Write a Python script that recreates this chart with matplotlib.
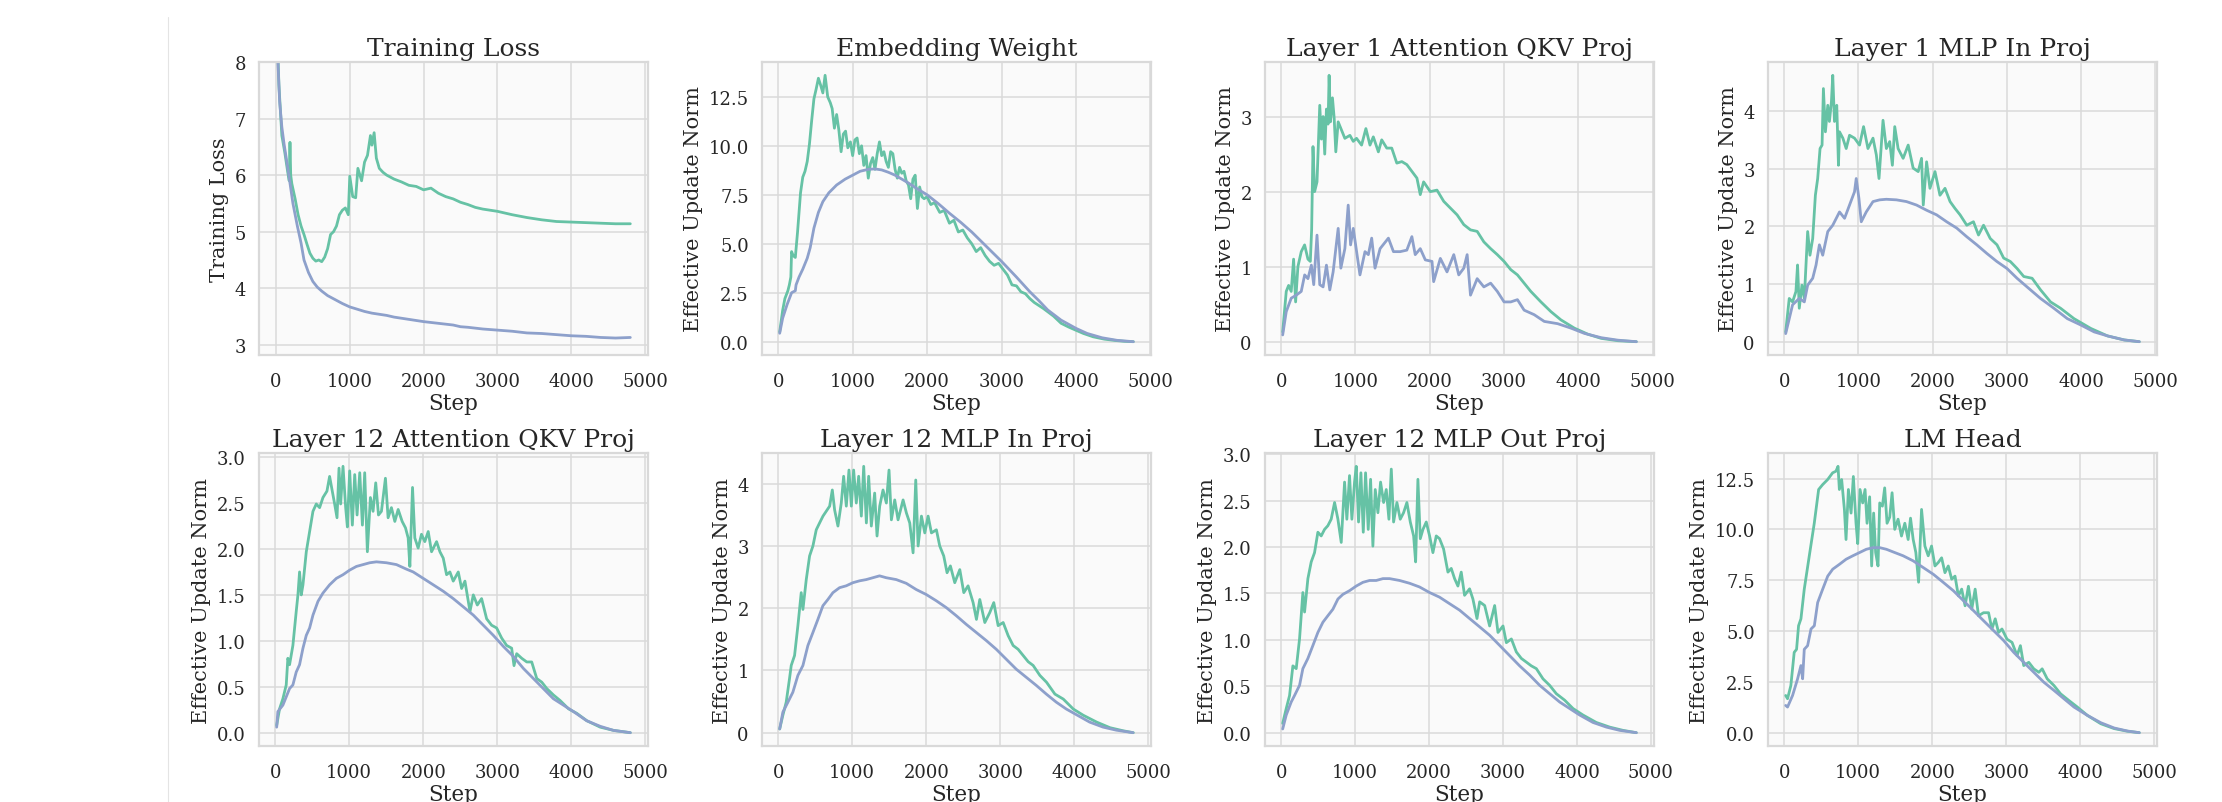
import numpy as np
import matplotlib
matplotlib.use("Agg")
import matplotlib.pyplot as plt
import seaborn as sns
from matplotlib.lines import Line2D
from matplotlib.ticker import MultipleLocator

sns.set_theme(style="whitegrid", rc={"axes.facecolor": "#fafafa"})
plt.rcParams['font.family'] = ['DejaVu Serif']

GREEN = '#66c2a5'
BLUE = '#8da0cb'

# ---- Training loss ----
loss_g_steps = [20, 40, 80, 120, 160, 180, 190, 200, 215, 240, 260, 300, 340, 380, 420, 460, 500, 540, 580,
                620, 660, 700, 740, 780, 820, 860, 900, 940, 980, 1000, 1040, 1080, 1110, 1160, 1200, 1240,
                1280, 1300, 1330, 1360, 1400, 1450, 1500, 1600, 1700, 1800, 1900, 2000, 2100, 2200, 2300,
                2400, 2500, 2600, 2700, 2800, 2900, 3000, 3200, 3400, 3600, 3800, 4000, 4200, 4400, 4600, 4800]
loss_g = [8.4, 7.6, 6.7, 6.4, 6.05, 5.9, 6.58, 6.0, 5.85, 5.7, 5.58, 5.3, 5.1, 4.95, 4.78, 4.62, 4.53, 4.48, 4.5,
          4.47, 4.55, 4.7, 4.95, 5.0, 5.1, 5.3, 5.38, 5.42, 5.3, 5.98, 5.62, 5.6, 6.12, 5.9, 6.23, 6.35,
          6.7, 6.53, 6.75, 6.3, 6.12, 6.05, 6.0, 5.93, 5.88, 5.82, 5.8, 5.74, 5.77, 5.68, 5.62,
          5.58, 5.52, 5.48, 5.43, 5.4, 5.38, 5.36, 5.3, 5.25, 5.21, 5.18, 5.17, 5.16, 5.15, 5.14, 5.14]
loss_b_steps = [10, 20, 30, 50, 80, 110, 140, 180, 230, 290, 340, 380, 440, 500, 560, 620, 700, 800, 900, 1000,
                1100, 1200, 1300, 1400, 1500, 1600, 1700, 1800, 1900, 2000, 2200, 2400, 2500, 2600, 2800,
                3000, 3200, 3400, 3600, 3800, 4000, 4200, 4400, 4600, 4800]
loss_b = [9.5, 8.4, 7.9, 7.3, 6.85, 6.55, 6.3, 5.95, 5.5, 5.1, 4.8, 4.5, 4.28, 4.12, 4.02, 3.95, 3.87, 3.8, 3.73,
          3.67, 3.63, 3.59, 3.56, 3.54, 3.52, 3.49, 3.47, 3.45, 3.43, 3.41, 3.38, 3.35, 3.32, 3.31, 3.28,
          3.26, 3.24, 3.21, 3.2, 3.18, 3.16, 3.15, 3.13, 3.12, 3.13]

# ---- Embedding weight ----
emb_g_steps = [20, 60, 90, 130, 150, 170, 180, 200, 230, 260, 300, 330, 360, 390, 420, 450, 480, 510, 540, 570,
               600, 630, 665, 700, 725, 755, 785, 815, 845, 875, 905, 935, 970, 1000, 1030, 1060, 1090, 1120,
               1150, 1180, 1210, 1240, 1270, 1300, 1330, 1360, 1390, 1420, 1450, 1480, 1510, 1540, 1570, 1600,
               1630, 1660, 1690, 1720, 1750, 1780, 1810, 1840, 1870, 1900, 1930, 1960, 2000, 2050, 2100, 2170,
               2230, 2300, 2360, 2420, 2480, 2540, 2600, 2660, 2720, 2780, 2840, 2900, 2960, 3020, 3080, 3140,
               3200, 3260, 3320, 3380, 3440, 3500, 3560, 3620, 3700, 3800, 3900, 3990, 4100, 4230, 4380, 4530,
               4650, 4770]
emb_g = [0.5, 1.6, 2.2, 2.6, 2.9, 3.3, 4.6, 4.4, 4.3, 5.6, 7.6, 8.4, 8.7, 9.2, 10.1, 11.3, 12.4, 12.9, 13.45, 13.1,
         12.7, 13.6, 12.5, 12.2, 11.9, 10.9, 11.6, 10.8, 9.7, 10.6, 10.75, 9.9, 10.2, 9.5, 10.3, 10.4, 9.6, 10.0,
         9.0, 9.5, 8.35, 9.1, 9.4, 8.8, 9.6, 10.2, 9.5, 9.7, 9.2, 8.9, 9.7, 9.6, 8.8, 8.35,
         8.9, 8.6, 8.7, 8.2, 8.0, 7.3, 8.3, 8.5, 6.8, 7.9, 7.4, 7.3, 7.4, 7.0, 7.1, 6.6,
         6.7, 6.05, 6.2, 5.6, 5.7, 5.3, 5.0, 4.6, 4.8, 4.4, 4.1, 3.9, 4.0, 3.7, 3.4, 2.9,
         2.85, 2.55, 2.45, 2.2, 2.0, 1.85, 1.7, 1.53, 1.3, 0.94, 0.75, 0.6, 0.42, 0.25, 0.13, 0.06,
         0.02, 0.0]
emb_b_steps = [20, 60, 120, 180, 230, 240, 280, 330, 390, 430, 480, 540, 600, 680, 785, 900, 1000, 1100, 1210,
               1300, 1390, 1480, 1570, 1660, 1750, 1870, 2000, 2150, 2300, 2450, 2600, 2800, 3000, 3200, 3380,
               3500, 3620, 3800, 4000, 4150, 4350, 4550, 4770]
emb_b = [0.43, 1.2, 1.9, 2.5, 2.6, 2.9, 3.3, 3.7, 4.26, 4.8, 5.8, 6.6, 7.15, 7.6, 8.0, 8.3, 8.5, 8.7, 8.8,
         8.82, 8.77, 8.65, 8.5, 8.3, 8.1, 7.8, 7.5, 7.05, 6.56, 6.1, 5.6, 4.85, 4.1, 3.3, 2.55,
         2.1, 1.62, 1.1, 0.68, 0.42, 0.2, 0.07, 0.0]

# ---- Layer 1 attention QKV ----
l1qkv_g_steps = [20, 68, 100, 135, 167, 194, 225, 270, 315, 360, 392, 410, 428, 450, 482, 519, 541, 564, 586, 609,
                 631, 645, 663, 690, 713, 735, 767, 812, 857, 925, 970, 1014, 1082, 1140, 1195, 1240, 1308, 1353,
                 1421, 1488, 1556, 1624, 1691, 1759, 1827, 1872, 1917, 2007, 2097, 2188, 2278, 2368, 2458, 2548,
                 2638, 2728, 2819, 2909, 3000, 3090, 3180, 3270, 3360, 3496, 3631, 3766, 3947, 4127, 4308, 4533,
                 4780]
l1qkv_g = [0.13, 0.67, 0.75, 0.67, 1.1, 0.53, 1.0, 1.2, 1.29, 1.1, 1.07, 1.5, 2.6, 2.0, 2.13, 3.15, 2.7, 3.0, 2.5,
           3.1, 2.9, 3.55, 2.93, 3.25, 2.98, 2.53, 2.93, 2.82, 2.71, 2.75, 2.67, 2.71, 2.62, 2.84, 2.62, 2.73,
           2.53, 2.69, 2.58, 2.58, 2.38, 2.4, 2.36, 2.27, 2.18, 1.96, 2.13, 2.0, 2.02, 1.87, 1.78, 1.69, 1.56,
           1.49, 1.47, 1.33, 1.24, 1.16, 1.07, 0.96, 0.89, 0.78, 0.67, 0.53, 0.4, 0.29, 0.18, 0.1, 0.044,
           0.013, 0.0]
l1qkv_b_steps = [20, 68, 135, 203, 270, 316, 360, 406, 438, 482, 519, 564, 609, 654, 699, 767, 803, 857, 902, 934,
                 970, 1015, 1060, 1128, 1173, 1218, 1263, 1331, 1443, 1511, 1601, 1691, 1759, 1804, 1872, 1940,
                 2030, 2052, 2142, 2232, 2323, 2390, 2458, 2503, 2548, 2638, 2728, 2819, 2909, 3000, 3090, 3180,
                 3270, 3405, 3541, 3721, 3902, 4082, 4308, 4533, 4780]
l1qkv_b = [0.09, 0.4, 0.58, 0.62, 0.67, 0.89, 0.84, 1.02, 0.76, 1.42, 0.76, 0.73, 1.02, 0.69, 0.93, 1.51, 0.98,
           1.24, 1.82, 1.29, 1.51, 1.2, 0.89, 1.2, 1.16, 1.38, 0.98, 1.24, 1.38, 1.2, 1.2, 1.22, 1.4, 1.16,
           1.24, 1.09, 1.07, 0.8, 1.11, 0.93, 1.16, 0.89, 0.98, 1.16, 0.62, 0.84, 0.73, 0.78, 0.67, 0.53,
           0.53, 0.56, 0.42, 0.36, 0.27, 0.24, 0.18, 0.11, 0.053, 0.02, 0.0]

# ---- Layer 1 MLP in ----
l1mlp_g_steps = [20, 68, 113, 158, 180, 203, 239, 271, 316, 347, 384, 420, 451, 483, 510, 528, 555, 587, 609, 636,
                 654, 677, 708, 731, 745, 790, 835, 880, 947, 1015, 1069, 1128, 1196, 1241, 1277, 1331, 1376,
                 1421, 1457, 1489, 1534, 1602, 1670, 1737, 1805, 1850, 1873, 1918, 1963, 2031, 2098, 2166, 2234,
                 2301, 2369, 2459, 2549, 2617, 2685, 2775, 2866, 2956, 3046, 3136, 3227, 3339, 3452, 3587, 3722,
                 3903, 4129, 4355, 4580, 4783]
l1mlp_g = [0.17, 0.75, 0.69, 0.87, 1.33, 0.58, 0.98, 0.75, 1.91, 1.5, 1.79, 2.54, 2.83, 3.35, 3.41, 4.39, 3.64,
           4.1, 3.82, 4.16, 4.62, 3.82, 4.1, 3.06, 3.64, 3.53, 3.35, 3.58, 3.53, 3.41, 3.73, 3.35, 3.53, 3.24,
           2.83, 3.84, 3.35, 3.47, 3.06, 3.73, 3.35, 3.18, 3.41, 3.01, 2.95, 3.18, 2.37, 3.12, 2.66, 2.95,
           2.54, 2.66, 2.43, 2.31, 2.2, 2.02, 2.08, 1.85, 2.02, 1.79, 1.68, 1.45, 1.39, 1.27, 1.13, 1.1, 0.9,
           0.69, 0.58, 0.4, 0.23, 0.1, 0.03, 0.0]
l1mlp_b_steps = [20, 113, 203, 271, 316, 384, 429, 474, 519, 587, 654, 745, 813, 880, 947, 970, 1006, 1038, 1105,
                 1196, 1286, 1376, 1512, 1647, 1782, 1918, 2053, 2188, 2324, 2459, 2594, 2730, 2865, 3000, 3136,
                 3271, 3452, 3632, 3813, 3994, 4174, 4355, 4580, 4783]
l1mlp_b = [0.14, 0.64, 0.75, 0.69, 0.98, 1.1, 1.33, 1.68, 1.5, 1.91, 2.02, 2.25, 2.14, 2.37, 2.6, 2.83, 2.49,
           2.08, 2.25, 2.43, 2.46, 2.47, 2.46, 2.43, 2.37, 2.28, 2.2, 2.08, 1.97, 1.82, 1.68, 1.53, 1.39,
           1.27, 1.1, 0.95, 0.75, 0.58, 0.4, 0.29, 0.17, 0.1, 0.03, 0.0]

# ---- Layer 12 attention QKV ----
l12qkv_g_steps = [20, 59, 104, 149, 171, 194, 239, 284, 307, 329, 352, 375, 420, 465, 510, 555, 600, 645, 699,
                  735, 771, 803, 835, 862, 884, 916, 952, 975, 1006, 1042, 1074, 1106, 1142, 1178, 1209, 1245,
                  1286, 1322, 1358, 1395, 1435, 1489, 1525, 1570, 1616, 1661, 1715, 1760, 1796, 1819, 1855,
                  1886, 1931, 1976, 2021, 2067, 2112, 2180, 2225, 2270, 2315, 2360, 2405, 2473, 2518, 2563,
                  2631, 2676, 2730, 2788, 2856, 2923, 2991, 3059, 3126, 3194, 3226, 3262, 3330, 3398, 3465,
                  3533, 3601, 3669, 3759, 3849, 3962, 4075, 4210, 4391, 4571, 4797]
l12qkv_g = [0.08, 0.26, 0.37, 0.52, 0.81, 0.74, 0.95, 1.32, 1.5, 1.75, 1.5, 1.61, 1.97, 2.19, 2.41, 2.49, 2.45,
            2.56, 2.63, 2.79, 2.63, 2.49, 2.34, 2.88, 2.49, 2.9, 2.45, 2.24, 2.85, 2.26, 2.81, 2.37, 2.83,
            2.26, 2.83, 1.97, 2.56, 2.41, 2.72, 2.37, 2.41, 2.77, 2.34, 2.45, 2.3, 2.43, 2.3, 2.23, 2.12,
            1.81, 2.67, 2.12, 2.01, 2.16, 2.08, 2.19, 1.97, 2.08, 1.97, 1.9, 1.72, 1.75, 1.65, 1.75, 1.57,
            1.65, 1.32, 1.5, 1.39, 1.46, 1.24, 1.17, 1.14, 1.03, 0.95, 0.92, 0.73, 0.86, 0.81, 0.77, 0.77,
            0.59, 0.55, 0.48, 0.41, 0.35, 0.26, 0.21, 0.13, 0.06, 0.025, 0.0]
l12qkv_b_steps = [20, 36, 104, 194, 239, 284, 329, 375, 420, 465, 510, 578, 645, 735, 826, 916, 1006, 1097,
                  1187, 1277, 1367, 1503, 1638, 1774, 1864, 2000, 2135, 2270, 2405, 2541, 2676, 2811, 2946,
                  3081, 3217, 3352, 3487, 3622, 3757, 3893, 4028, 4208, 4389, 4569, 4797]
l12qkv_b = [0.06, 0.23, 0.3, 0.48, 0.52, 0.66, 0.74, 0.92, 1.06, 1.14, 1.28, 1.43, 1.52, 1.61, 1.68, 1.72,
            1.77, 1.81, 1.83, 1.85, 1.86, 1.85, 1.83, 1.78, 1.75, 1.68, 1.61, 1.54, 1.46, 1.37, 1.28, 1.17,
            1.06, 0.94, 0.83, 0.7, 0.59, 0.48, 0.37, 0.3, 0.23, 0.13, 0.07, 0.025, 0.0]

# ---- Layer 12 MLP in ----
l12in_g_steps = [20, 63, 108, 153, 176, 221, 266, 311, 334, 379, 424, 469, 514, 559, 605, 650, 695, 731, 762,
                 807, 852, 884, 920, 956, 988, 1019, 1055, 1087, 1123, 1155, 1191, 1222, 1258, 1303, 1335,
                 1371, 1416, 1461, 1497, 1529, 1574, 1619, 1687, 1732, 1777, 1822, 1858, 1890, 1935, 1980,
                 2025, 2070, 2137, 2182, 2236, 2281, 2326, 2385, 2453, 2507, 2565, 2633, 2678, 2723, 2791,
                 2858, 2912, 2971, 3039, 3106, 3174, 3241, 3309, 3377, 3444, 3535, 3625, 3738, 3851, 3986,
                 4121, 4302, 4482, 4662, 4797]
l12in_g = [0.06, 0.28, 0.49, 0.87, 1.08, 1.24, 1.72, 2.25, 1.98, 2.46, 2.84, 3.0, 3.26, 3.37, 3.48, 3.56, 3.64,
           3.9, 3.58, 3.32, 3.69, 4.12, 3.64, 4.22, 3.64, 4.22, 3.69, 4.12, 3.48, 4.28, 3.37, 4.12, 3.32, 3.85,
           3.16, 3.64, 3.9, 3.69, 4.22, 3.42, 3.74, 3.42, 3.74, 3.53, 3.37, 2.89, 4.06, 3.0, 3.48, 3.21,
           3.48, 3.21, 3.26, 3.0, 2.84, 2.57, 2.68, 2.41, 2.62, 2.25, 2.36, 2.09, 1.82, 2.14, 1.77, 1.93,
           2.09, 1.72, 1.77, 1.56, 1.4, 1.34, 1.24, 1.14, 1.08, 0.92, 0.81, 0.62, 0.54, 0.38, 0.28, 0.17,
           0.08, 0.03, 0.0]
l12in_b_steps = [20, 63, 131, 198, 266, 334, 401, 469, 536, 604, 671, 739, 829, 919, 1009, 1099, 1189, 1279,
                 1369, 1459, 1595, 1730, 1865, 2000, 2135, 2270, 2405, 2541, 2676, 2811, 2946, 3081, 3216,
                 3351, 3486, 3622, 3757, 3892, 4027, 4207, 4387, 4568, 4793]
l12in_b = [0.06, 0.33, 0.49, 0.65, 0.92, 1.08, 1.4, 1.61, 1.82, 2.04, 2.14, 2.25, 2.33, 2.36, 2.41, 2.44, 2.46,
           2.49, 2.52, 2.49, 2.46, 2.4, 2.3, 2.22, 2.12, 2.01, 1.88, 1.74, 1.61, 1.48, 1.34, 1.18, 1.02, 0.89,
           0.76, 0.62, 0.49, 0.38, 0.29, 0.17, 0.09, 0.04, 0.0]

# ---- Layer 12 MLP out ----
l12out_g_steps = [20, 68, 113, 158, 203, 248, 293, 316, 361, 406, 451, 496, 541, 586, 631, 676, 722, 767, 812,
                  857, 888, 924, 956, 992, 1015, 1046, 1078, 1110, 1141, 1177, 1209, 1240, 1272, 1308, 1344,
                  1385, 1421, 1457, 1489, 1520, 1565, 1610, 1655, 1700, 1746, 1791, 1818, 1849, 1881, 1917,
                  1962, 2007, 2052, 2097, 2142, 2196, 2255, 2300, 2345, 2390, 2435, 2480, 2548, 2593, 2648,
                  2684, 2752, 2819, 2887, 2932, 3000, 3045, 3113, 3180, 3248, 3316, 3383, 3451, 3541, 3631,
                  3721, 3834, 3947, 4082, 4262, 4443, 4623, 4803]
l12out_g = [0.1, 0.26, 0.4, 0.72, 0.69, 1.01, 1.51, 1.3, 1.66, 1.84, 1.94, 2.16, 2.12, 2.19, 2.23, 2.3, 2.48,
            2.3, 2.05, 2.7, 2.3, 2.77, 2.3, 2.7, 2.87, 2.27, 2.8, 2.16, 2.8, 2.19, 2.73, 2.01, 2.62, 2.37,
            2.7, 2.48, 2.62, 2.3, 2.84, 2.27, 2.48, 2.3, 2.37, 2.48, 2.27, 2.12, 1.84, 2.73, 2.09, 2.19,
            2.27, 2.12, 1.94, 2.12, 2.09, 1.98, 1.73, 1.77, 1.66, 1.58, 1.73, 1.48, 1.55, 1.44, 1.23,
            1.41, 1.37, 1.15, 1.37, 1.08, 1.15, 0.97, 1.01, 0.87, 0.8, 0.76, 0.72, 0.69, 0.58, 0.51,
            0.42, 0.35, 0.26, 0.19, 0.11, 0.06, 0.025, 0.0]
l12out_b_steps = [20, 68, 135, 180, 248, 293, 361, 429, 496, 564, 631, 699, 767, 834, 924, 1015, 1105, 1195,
                  1285, 1376, 1466, 1601, 1736, 1871, 2007, 2142, 2277, 2413, 2548, 2684, 2819, 2955, 3090,
                  3225, 3361, 3496, 3631, 3767, 3902, 4037, 4217, 4398, 4578, 4803]
l12out_b = [0.04, 0.19, 0.33, 0.4, 0.51, 0.69, 0.8, 0.94, 1.08, 1.19, 1.26, 1.33, 1.44, 1.49, 1.53, 1.58,
            1.62, 1.64, 1.64, 1.66, 1.66, 1.64, 1.61, 1.57, 1.51, 1.46, 1.39, 1.32, 1.23, 1.14, 1.05, 0.94,
            0.83, 0.72, 0.62, 0.51, 0.42, 0.33, 0.26, 0.19, 0.11, 0.06, 0.025, 0.0]

# ---- LM head ----
lm_g_steps = [20, 45, 90, 135, 167, 194, 226, 271, 339, 406, 465, 519, 587, 654, 699, 727, 745, 776, 813, 835,
              867, 903, 934, 970, 993, 1024, 1060, 1092, 1119, 1154, 1181, 1208, 1235, 1267, 1290, 1326, 1357,
              1389, 1425, 1457, 1493, 1538, 1584, 1629, 1674, 1706, 1742, 1778, 1815, 1855, 1900, 1945, 1990,
              2036, 2081, 2126, 2171, 2216, 2262, 2307, 2352, 2397, 2443, 2488, 2533, 2579, 2624, 2692, 2760,
              2805, 2850, 2895, 2941, 3009, 3077, 3145, 3190, 3235, 3303, 3371, 3439, 3484, 3552, 3643, 3733,
              3846, 3959, 4095, 4276, 4457, 4638, 4796]
lm_g = [1.83, 1.67, 2.32, 3.95, 4.1, 5.26, 5.6, 7.06, 8.7, 10.3, 11.96, 12.2, 12.45, 12.78, 12.86, 13.1, 11.96,
        12.45, 10.98, 9.5, 11.96, 10.8, 12.6, 10.3, 9.3, 11.96, 11.3, 11.96, 10.3, 11.6, 8.2, 10.8, 8.86, 8.2,
        11.3, 11.14, 12.04, 10.3, 10.6, 11.8, 10.0, 10.5, 9.67, 10.3, 9.5, 10.55, 9.5, 8.86, 7.4, 10.98,
        9.18, 8.7, 9.18, 8.2, 8.37, 8.6, 7.87, 8.2, 7.55, 7.7, 6.73, 7.06, 6.24, 7.2, 6.08, 7.06, 5.75,
        5.9, 5.9, 5.1, 5.6, 4.93, 5.1, 4.6, 4.44, 3.79, 4.28, 3.3, 3.46, 3.14, 2.97, 3.14, 2.65, 2.32,
        1.91, 1.58, 1.26, 0.85, 0.44, 0.2, 0.07, 0.0]
lm_b_steps = [20, 45, 113, 181, 226, 249, 271, 316, 362, 407, 452, 520, 588, 655, 746, 836, 927, 1018, 1109,
              1200, 1290, 1380, 1471, 1606, 1742, 1878, 2014, 2149, 2285, 2421, 2557, 2692, 2828, 2964, 3100,
              3235, 3371, 3507, 3643, 3778, 3914, 4095, 4276, 4457, 4638, 4796]
lm_b = [1.34, 1.26, 1.83, 2.65, 3.3, 2.65, 4.1, 4.28, 5.1, 5.26, 6.4, 7.06, 7.7, 8.04, 8.28, 8.53, 8.7, 8.86,
        9.02, 9.1, 9.1, 9.02, 8.89, 8.7, 8.45, 8.12, 7.79, 7.39, 6.98, 6.49, 6.0, 5.51, 5.02, 4.53, 3.95,
        3.46, 2.97, 2.48, 2.08, 1.67, 1.26, 0.85, 0.49, 0.23, 0.08, 0.0]

titles = ['Training Loss', 'Embedding Weight', 'Layer 1 Attention QKV Proj', 'Layer 1 MLP In Proj',
          'Layer 12 Attention QKV Proj', 'Layer 12 MLP In Proj', 'Layer 12 MLP Out Proj', 'LM Head']
ytick_steps = [1, 2.5, 1, 1, 0.5, 1, 0.5, 2.5]

panels = [
    (loss_g_steps, loss_g, loss_b_steps, loss_b),
    (emb_g_steps, emb_g, emb_b_steps, emb_b),
    (l1qkv_g_steps, l1qkv_g, l1qkv_b_steps, l1qkv_b),
    (l1mlp_g_steps, l1mlp_g, l1mlp_b_steps, l1mlp_b),
    (l12qkv_g_steps, l12qkv_g, l12qkv_b_steps, l12qkv_b),
    (l12in_g_steps, l12in_g, l12in_b_steps, l12in_b),
    (l12out_g_steps, l12out_g, l12out_b_steps, l12out_b),
    (lm_g_steps, lm_g, lm_b_steps, lm_b),
]

fig, axes = plt.subplots(2, 4, figsize=(22.22, 8.03), dpi=100)
fig.subplots_adjust(left=259 / 2222, right=2157 / 2222, top=1 - 63 / 803, bottom=1 - 747 / 803,
                    wspace=114 / 389, hspace=98 / 293)

for i, ax in enumerate(axes.flat):
    gs, gv, bs, bv = panels[i]
    ax.plot(gs, gv, color=GREEN, lw=2.0)
    ax.plot(bs, bv, color=BLUE, lw=2.0)
    ax.set_title(titles[i], fontsize=18, pad=5)
    ax.set_xlabel('Step', fontsize=15.5, labelpad=2)
    ax.set_ylabel('Training Loss' if i == 0 else 'Effective Update Norm', fontsize=15)
    ax.tick_params(axis='both', labelsize=13)
    ax.tick_params(axis='x', pad=6)
    ax.set_xticks([0, 1000, 2000, 3000, 4000, 5000])
    ax.yaxis.set_major_locator(MultipleLocator(ytick_steps[i]))
    for sp in ax.spines.values():
        sp.set_color('#d9d9d9')
        sp.set_linewidth(1.6)
    ax.grid(color='#dadada', lw=1.1)

axes[0, 0].set_ylim(2.82, 8)

# thin separator line at the left edge of the figure
fig.add_artist(Line2D([168 / 2222, 168 / 2222], [0, 1 - 18 / 803], color='#e4e4e4', lw=0.8))

fig.savefig('out.png', dpi=100)
